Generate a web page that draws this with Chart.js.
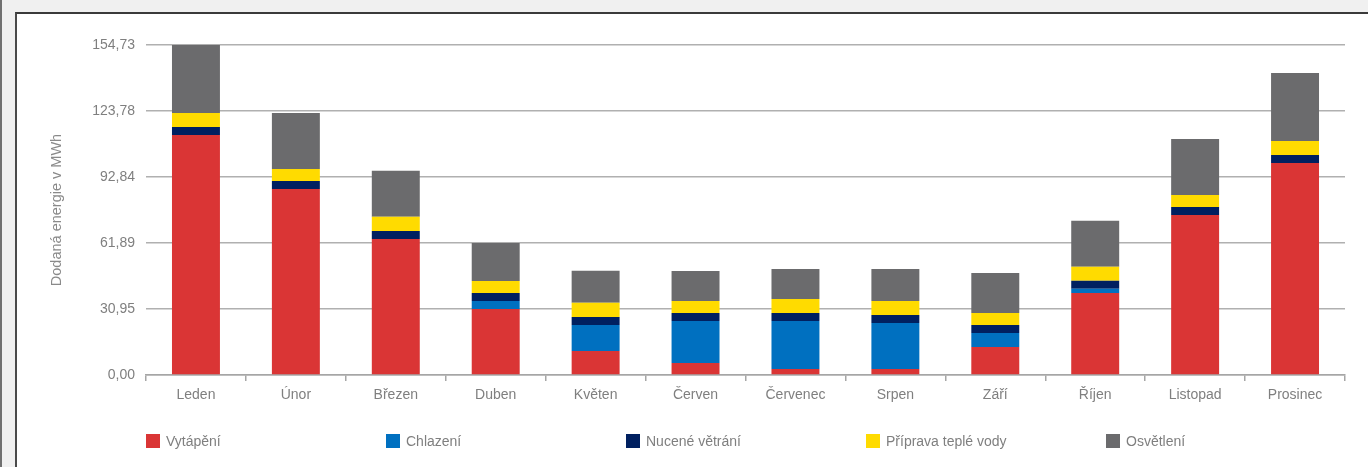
<!DOCTYPE html>
<html lang="cs">
<head>
<meta charset="utf-8">
<title>Dodaná energie</title>
<script src="https://cdn.jsdelivr.net/npm/chart.js@4/dist/chart.umd.min.js"></script>
<style>
  html, body {
    margin: 0;
    padding: 0;
    width: 1368px;
    height: 467px;
    overflow: hidden;
    background: #f0f0f0;
    font-family: "Liberation Sans", Arial, sans-serif;
  }
  #outer {
    position: absolute;
    left: 0;
    top: 0;
    width: 2px;
    height: 467px;
    background: #707070;
  }
  #frame {
    position: absolute;
    left: 15px;
    top: 12px;
    width: 1351px;
    height: 453px;
    border-left: 2px solid #4a4a4a;
    border-top: 2px solid #3a3a3a;
    background: #fff;
  }
  #energyChart {
    position: absolute;
    left: 0;
    top: 0;
  }
  #legend {
    position: absolute;
    left: 129px;
    top: 419px;
    display: flex;
  }
  .item {
    width: 240px;
    display: flex;
    align-items: center;
    font-size: 14px;
    color: #7f7f7f;
  }
  .box {
    width: 14px;
    height: 14px;
    margin-right: 6px;
  }
</style>
</head>
<body>
<div id="outer"></div>
<div id="frame">
  <canvas id="energyChart" width="1351" height="453"></canvas>
  <div id="legend"></div>
</div>
<script>
// Měsíce
const months = ["Leden", "Únor", "Březen", "Duben", "Květen", "Červen",
  "Červenec", "Srpen", "Září", "Říjen", "Listopad", "Prosinec"];

// Hodnoty v MWh
const vytapeni = [112.5, 87.2, 63.8, 30.9, 11.3, 5.6, 2.8, 2.8, 13.1, 38.5, 75.0, 99.4];
const chlazeni = [0, 0, 0, 3.8, 12.2, 19.7, 22.5, 21.6, 6.6, 1.9, 0, 0];
const vetrani = [3.75, 3.75, 3.75, 3.75, 3.75, 3.75, 3.75, 3.75, 3.75, 3.75, 3.75, 3.75];
const teplaVoda = [6.6, 5.6, 6.6, 5.6, 6.6, 5.6, 6.6, 6.6, 5.6, 6.6, 5.6, 6.6];
const osvetleni = [31.88, 26.3, 21.6, 17.8, 15.0, 14.1, 14.1, 15.0, 18.8, 21.6, 26.3, 31.9];

// Popisky osy Y
const yTicks = [0, 30.95, 61.89, 92.84, 123.78, 154.73];

const seriesNames = ["Vytápění", "Chlazení", "Nucené větrání", "Příprava teplé vody", "Osvětlení"];
const seriesColors = ["#da3535", "#0070c0", "#002060", "#ffdb00", "#6b6b6d"];
const seriesData = [vytapeni, chlazeni, vetrani, teplaVoda, osvetleni];

const textColor = "#7f7f7f";
const gridColor = "#b0b0b0";

const datasets = seriesData.map((data, i) => ({
  label: seriesNames[i],
  data: data,
  backgroundColor: seriesColors[i],
  borderWidth: 0,
  barPercentage: 0.48,
  categoryPercentage: 1,
}));

new Chart(document.getElementById("energyChart"), {
  type: "bar",
  data: {
    labels: months,
    datasets: datasets,
  },
  options: {
    responsive: false,
    animation: false,
    layout: {
      padding: { top: 31, right: 23, left: 0, bottom: 0 },
    },
    plugins: {
      legend: { display: false },
      tooltip: { enabled: false },
    },
    scales: {
      x: {
        stacked: true,
        grid: {
          offset: true,
          drawOnChartArea: false,
          tickLength: 6,
          color: "#a6a6a6",
          lineWidth: 1.5,
        },
        border: { color: "#a6a6a6", width: 1.5 },
        ticks: {
          color: textColor,
          font: { family: "Liberation Sans", size: 14 },
          padding: 6,
          maxRotation: 0,
        },
        afterFit: (scale) => {
          scale.height = 92;
        },
      },
      y: {
        stacked: true,
        min: 0,
        max: 154.73,
        grid: {
          color: gridColor,
          lineWidth: 1.5,
          drawTicks: false,
        },
        border: { display: false },
        ticks: {
          color: textColor,
          font: { family: "Liberation Sans", size: 14 },
          padding: 11,
          callback: (v) => v.toFixed(2).replace(".", ","),
        },
        afterBuildTicks: (scale) => {
          scale.ticks = yTicks.map((v) => ({ value: v }));
        },
        afterFit: (scale) => {
          scale.width = 129;
        },
        title: {
          display: true,
          text: "Dodaná energie v MWh",
          color: "#8a8a8a",
          font: { family: "Liberation Sans", size: 14.5 },
          padding: { top: 31, bottom: 0 },
        },
      },
    },
  },
});

// Legenda
const legend = document.getElementById("legend");
seriesNames.forEach((name, i) => {
  const item = document.createElement("div");
  item.className = "item";
  const box = document.createElement("span");
  box.className = "box";
  box.style.background = seriesColors[i];
  const label = document.createElement("span");
  label.textContent = name;
  item.appendChild(box);
  item.appendChild(label);
  legend.appendChild(item);
});
</script>
</body>
</html>
